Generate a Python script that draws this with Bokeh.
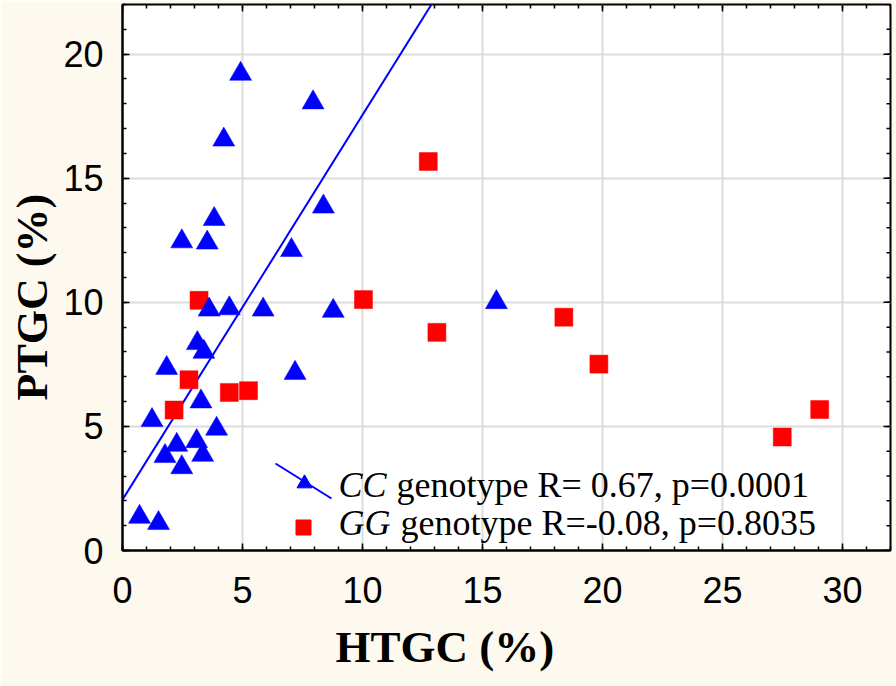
import math
from bokeh.plotting import figure
from bokeh.models import Range1d, LinearAxis, FixedTicker, Label, Title
from bokeh.embed import file_html
from bokeh.resources import INLINE

# ---- data ----
cc_htgc = [4.92, 7.94, 4.22, 2.47, 3.82, 3.53, 8.37, 7.04, 4.45, 3.61, 5.86, 15.58, 8.78,
           3.12, 3.39, 1.84, 3.27, 7.19, 1.23, 3.92, 2.26, 3.09, 1.77, 3.34, 2.47, 0.71, 1.50]
cc_ptgc = [19.2, 18.05, 16.55, 12.45, 13.35, 12.4, 13.85, 12.1, 9.75, 9.7, 9.7, 10.0, 9.65,
           8.35, 8.0, 7.35, 6.0, 7.15, 5.25, 4.9, 4.25, 4.4, 3.8, 3.85, 3.35, 1.35, 1.1]
gg_htgc = [12.74, 10.04, 13.1, 18.39, 19.85, 29.05, 27.49, 2.77, 2.15, 4.45, 5.25, 3.19]
gg_ptgc = [15.67, 10.11, 8.79, 9.40, 7.51, 5.68, 4.57, 6.88, 5.66, 6.37, 6.44, 10.08]
cc_fit_intercept = 2.05
cc_fit_slope = 1.55

x_major = [0, 5, 10, 15, 20, 25, 30]
y_major = [0, 5, 10, 15, 20]
x_minor = list(range(0, 33))
y_minor = list(range(0, 23))
x_max, y_max = 32, 22

x_title = "HTGC (%)"
y_title = "PTGC (%)"
cc_legend = ("CC", "genotype R= 0.67, p=0.0001")
gg_legend = ("GG", "genotype R=-0.08, p=0.8035")

# ---- layout constants (canvas pixels) ----
FL, FT, FW, FH = 122, 4, 768, 546
def px2data(px, py):
    return ((px - FL) / FW * x_max, (FT + FH - py) / FH * y_max)

BG = "#FDF9EE"
p = figure(frame_width=FW, frame_height=FH,
           x_range=Range1d(0, x_max), y_range=Range1d(0, y_max),
           output_backend="svg", toolbar_location=None,
           min_border_left=FL, min_border_right=6, min_border_top=FT, min_border_bottom=136,
           background_fill_color="white", border_fill_color=BG,
           outline_line_color="black", outline_line_width=2,
           x_axis_location=None, y_axis_location=None)

tick_font = "Liberation Sans"
title_font = "Liberation Serif"

def style_axis(ax):
    ax.axis_line_color = "black"
    ax.axis_line_width = 2
    ax.major_tick_in = 7
    ax.major_tick_out = 0
    ax.minor_tick_in = 4
    ax.minor_tick_out = 0
    ax.major_tick_line_color = "black"
    ax.minor_tick_line_color = "black"
    ax.major_tick_line_width = 1.5
    ax.minor_tick_line_width = 1.5
    ax.major_label_text_font = tick_font
    ax.major_label_text_font_size = "36px"
    ax.major_label_text_color = "black"

xticker = FixedTicker(ticks=x_major, minor_ticks=x_minor)
yticker = FixedTicker(ticks=y_major, minor_ticks=y_minor)

xb = LinearAxis(ticker=xticker)
style_axis(xb)
xb.major_label_standoff = 26
p.add_layout(xb, "below")

yl = LinearAxis(ticker=yticker)
style_axis(yl)
yl.major_label_standoff = 19
p.add_layout(yl, "left")

# axis titles (placed off-centre, as in the reference)
p.add_layout(Title(text=x_title, align="left", offset=335 - FL, standoff=28,
                   text_font=title_font, text_font_style="bold", text_font_size="45px",
                   text_color="black"), "below")
p.add_layout(Title(text=y_title, align="left", offset=FT + FH - 400, standoff=8,
                   text_font=title_font, text_font_style="bold", text_font_size="44px",
                   text_color="black"), "left")

p.xgrid.ticker = xticker
p.ygrid.ticker = yticker
p.grid.grid_line_color = "#dcdcdc"
p.grid.grid_line_width = 2
p.grid.minor_grid_line_color = None

# inward ticks on the top and right frame edges, from the same tick lists
dy_major, dy_minor = 7 / FH * y_max, 4 / FH * y_max
dx_major, dx_minor = 7 / FW * x_max, 4 / FW * x_max
top_x = x_major + x_minor
top_len = [dy_major] * len(x_major) + [dy_minor] * len(x_minor)
p.segment(x0=top_x, y0=[y_max] * len(top_x), x1=top_x, y1=[y_max - d for d in top_len],
          line_color="black", line_width=1.5)
right_y = y_major + y_minor
right_len = [dx_major] * len(y_major) + [dx_minor] * len(y_minor)
p.segment(x0=[x_max] * len(right_y), y0=right_y, x1=[x_max - d for d in right_len], y1=right_y,
          line_color="black", line_width=1.5)

# regression line for CC
p.line([0, x_max], [cc_fit_intercept, cc_fit_intercept + cc_fit_slope * x_max],
       line_color="blue", line_width=2)

p.scatter(gg_htgc, gg_ptgc, marker="square", size=18, fill_color="red", line_color="red", line_width=0.5)
p.scatter(cc_htgc, cc_ptgc, marker="triangle", size=22, fill_color="blue", line_color="blue", line_width=0.5)

# ---- legend (drawn by hand so that genotype names can be italic) ----
lx0, ly0 = px2data(275, 463)
lx1, ly1 = px2data(331, 498)
p.line([lx0, lx1], [ly0, ly1], line_color="blue", line_width=2)
tx, ty = px2data(304, 483)
p.scatter([tx], [ty], marker="triangle", size=15, fill_color="blue", line_color="blue")
sx, sy = px2data(303, 527)
p.scatter([sx], [sy], marker="square", size=15, fill_color="red", line_color="red")

BASE_FIX = 13  # Bokeh draws the alphabetic baseline this much lower
for (ital, rest), base_y, rest_x in [(cc_legend, 497, 396), (gg_legend, 535, 400)]:
    x0, y0 = px2data(338, base_y - BASE_FIX)
    x1, _ = px2data(rest_x, base_y - BASE_FIX)
    p.add_layout(Label(x=x0, y=y0, text=ital, text_font=title_font, text_font_style="italic",
                       text_font_size="36px", text_baseline="alphabetic", text_color="black"))
    p.add_layout(Label(x=x1, y=y0, text=rest, text_font=title_font,
                       text_font_size="36px", text_baseline="alphabetic", text_color="black"))

open("out.html", "w").write(file_html(p, INLINE))
